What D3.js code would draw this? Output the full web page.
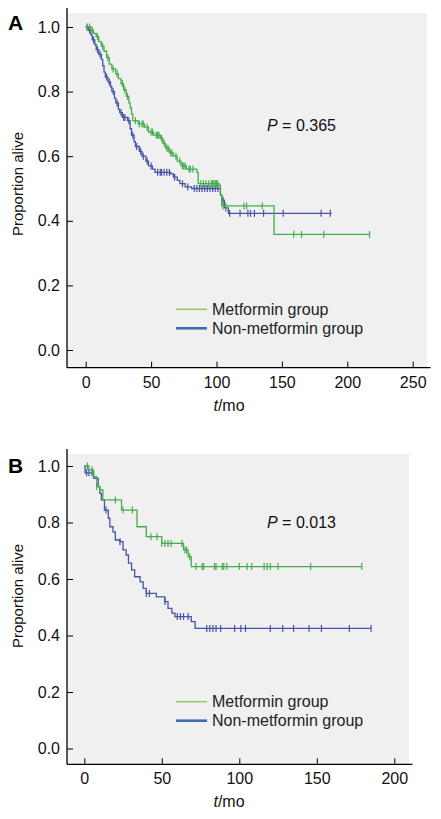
<!DOCTYPE html>
<html><head><meta charset="utf-8">
<script src="https://cdn.jsdelivr.net/npm/d3@7"></script>
<style>
html,body{margin:0;padding:0;background:#fff;}
svg{display:block;font-family:"Liberation Sans",Arial,sans-serif;}
</style></head>
<body><svg id="c" width="441" height="819"></svg>
<script>
// ---------- data ----------
const seriesNames = ["Metformin group", "Non-metformin group"];
const panelLabels = ["A", "B"];
const pValues = ["0.365", "0.013"];
const xTicksA = [0, 50, 100, 150, 200, 250];
const xTicksB = [0, 50, 100, 150, 200];
const yTicks = [0.0, 0.2, 0.4, 0.6, 0.8, 1.0];

// Panel A – metformin
const aMetTimes = [0,4,6,8,10,12,14,16,18,20,23,25,27,29,31,33,34,35,36,40,45,48,52,57,59,61,64,67,70,73,77,85,86,102,103,104,144,217];
const aMetSurv  = [1.0,0.99,0.98,0.97,0.955,0.94,0.925,0.905,0.885,0.87,0.855,0.84,0.825,0.805,0.785,0.765,0.75,0.73,0.71,0.70,0.69,0.675,0.665,0.655,0.64,0.625,0.61,0.60,0.585,0.57,0.56,0.55,0.515,0.51,0.48,0.446,0.358,0.358];
const aMetCensor = [3,5,9,13,17,21,24,28,30,32,38,41,43,44,47,50,51,54,55,56,58,60,62,63,65,66,69,72,74,75,76,79,80,82,88,90,92,94,96,97,98,99,100,101,105,107,121,123,135,159,165,182,217];
// Panel A – non-metformin
const aNonTimes = [0,2,4,5,7,8,10,12,13,14,15,17,19,20,22,23,25,26,28,32,34,35,37,38,41,43,46,48,51,53,65,67,70,72,76,81,103,104,106,109,188];
const aNonSurv  = [1.0,0.99,0.975,0.96,0.945,0.93,0.915,0.9,0.88,0.86,0.845,0.83,0.815,0.8,0.78,0.765,0.745,0.735,0.72,0.71,0.685,0.665,0.645,0.63,0.615,0.6,0.585,0.57,0.56,0.55,0.545,0.535,0.525,0.515,0.505,0.5,0.48,0.464,0.44,0.423,0.423];
const aNonCensor = [1,3,6,9,11,16,18,21,24,27,29,30,33,36,39,42,44,47,50,55,57,58,60,62,64,68,74,78,83,85,87,89,91,93,95,97,99,101,105,107,110,118,124,126,129,136,151,180,187];

// Panel B – metformin
const bMetTimes = [0,3,6,8,10,12,24,34,40,50,64,67,69,179];
const bMetSurv  = [1,0.986,0.962,0.927,0.915,0.88,0.844,0.785,0.75,0.726,0.703,0.679,0.644,0.644];
const bMetCensor = [2,5,8,20,25,31,43,47,50,52,54,56,63,65,66,68,72,76,77,84,85,89,90,92,100,105,108,116,118,120,125,146,179];
// Panel B – non-metformin
const bNonTimes = [0,0.5,6,9,10,11,13,15.5,16.5,18.5,20,23,25,27,28.5,30.5,32.5,36,38,40,46.5,52,54,56.5,58.5,69,71.5,185];
const bNonSurv  = [1,0.976,0.956,0.927,0.903,0.88,0.844,0.815,0.785,0.767,0.738,0.732,0.703,0.685,0.656,0.632,0.608,0.59,0.567,0.549,0.537,0.52,0.496,0.479,0.467,0.449,0.425,0.425];
const bNonCensor = [1.5,3,5,14,23,40,42,52,60,62,64,67,79,81,83,85,88,97,101,104,120,128,135,145,153,171,185];

// ---------- styles ----------
const curveColors = ["#45ad4d", "#4753a5"];
const legendColors = ["#8fcb5c", "#3b6db3"];
const legendWidths = [1.5, 2.6];

const svg = d3.select("#c");

function survAt(times, surv, t) {
  let s = surv[0];
  for (let i = 0; i < times.length; i++) { if (times[i] <= t) s = surv[i]; }
  return s;
}

function panel(cfg) {
  const x = d3.scaleLinear().domain([0, cfg.xMax]).range(cfg.xr);
  const y = d3.scaleLinear().domain([0, 1]).range(cfg.yr);
  const g = svg.append("g");
  g.append("rect").attr("x", cfg.box[0]).attr("y", cfg.box[1])
    .attr("width", cfg.box[2] - cfg.box[0]).attr("height", cfg.box[3] - cfg.box[1])
    .attr("fill", "#f0f0f0");

  const yAx = g.append("g").attr("transform", `translate(${cfg.box[0]},0)`)
    .call(d3.axisLeft(y).tickValues(yTicks).tickFormat(d3.format(".1f")).tickSizeInner(-6).tickSizeOuter(0).tickPadding(7));
  const xAx = g.append("g").attr("transform", `translate(0,${cfg.box[3]})`)
    .call(d3.axisBottom(x).tickValues(cfg.xTicks).tickFormat(d3.format("d")).tickSizeInner(-6).tickSizeOuter(0).tickPadding(cfg.xPad));
  [yAx, xAx].forEach(a => {
    a.select(".domain").remove();
    a.selectAll("line").attr("stroke", "#000").attr("stroke-width", 1);
    a.selectAll("text").attr("font-size", 16).attr("fill", "#111")
      .attr("font-family", '"Liberation Sans",Arial,sans-serif');
  });
  g.append("line").attr("x1", cfg.box[0]).attr("x2", cfg.box[0])
    .attr("y1", cfg.box[1] - 5).attr("y2", cfg.box[3]).attr("stroke", "#000").attr("stroke-width", 1.3);
  g.append("line").attr("x1", cfg.box[0]).attr("x2", cfg.box[2] + 3.5)
    .attr("y1", cfg.box[3]).attr("y2", cfg.box[3]).attr("stroke", "#000").attr("stroke-width", 1.3);

  const line = d3.line().curve(d3.curveStepAfter).x(d => x(d[0])).y(d => y(d[1]));
  [1, 0].forEach(k => {
    const s = cfg.series[k];
    const pts = s.times.map((t, i) => [t, s.surv[i]]);
    g.append("path").datum(pts).attr("d", line).attr("fill", "none")
      .attr("stroke", curveColors[k]).attr("stroke-width", 1.3);
    g.selectAll(null).data(s.censor).enter().append("line")
      .attr("x1", d => x(d)).attr("x2", d => x(d))
      .attr("y1", d => y(survAt(s.times, s.surv, d)) - 3.5)
      .attr("y2", d => y(survAt(s.times, s.surv, d)) + 3.5)
      .attr("stroke", curveColors[k]).attr("stroke-width", 1.2);
  });

  const pt = g.append("text").attr("x", 267).attr("y", cfg.pY).attr("font-size", 16).attr("fill", "#111");
  pt.append("tspan").attr("font-style", "italic").text("P");
  pt.append("tspan").text(" = " + cfg.p);

  seriesNames.forEach((n, k) => {
    const ly = cfg.legY[k];
    g.append("line").attr("x1", 176).attr("x2", 207).attr("y1", ly).attr("y2", ly)
      .attr("stroke", legendColors[k]).attr("stroke-width", legendWidths[k]);
    g.append("text").attr("x", 212).attr("y", ly + 5.5).attr("font-size", 16).attr("fill", "#222").text(n);
  });

  g.append("text").attr("transform", `translate(23,${cfg.yLabY}) rotate(-90)`)
    .attr("text-anchor", "middle").attr("font-size", 15).attr("fill", "#111").text("Proportion alive");
  const xt = g.append("text").attr("x", 229).attr("y", cfg.xLabY).attr("text-anchor", "middle")
    .attr("font-size", 16).attr("fill", "#111");
  xt.append("tspan").attr("font-style", "italic").text("t");
  xt.append("tspan").text("/mo");

  g.append("text").attr("x", 8).attr("y", cfg.letY).attr("font-size", 21).attr("font-weight", "bold")
    .attr("fill", "#000").text(cfg.letter);
}

panel({
  letter: panelLabels[0], p: pValues[0], xMax: 250, xTicks: xTicksA,
  xr: [85.7, 412.7], yr: [350, 27], box: [67, 13, 427, 367.7], xPad: 9,
  series: [{times: aMetTimes, surv: aMetSurv, censor: aMetCensor},
           {times: aNonTimes, surv: aNonSurv, censor: aNonCensor}],
  pY: 131, legY: [309.3, 328.3], yLabY: 184, xLabY: 411, letY: 29.5
});
panel({
  letter: panelLabels[1], p: pValues[1], xMax: 200, xTicks: xTicksB,
  xr: [84.3, 394.3], yr: [748.5, 466], box: [67, 454, 409, 764.3], xPad: 8,
  series: [{times: bMetTimes, surv: bMetSurv, censor: bMetCensor},
           {times: bNonTimes, surv: bNonSurv, censor: bNonCensor}],
  pY: 528, legY: [701.7, 720.7], yLabY: 596, xLabY: 807, letY: 472.5
});
</script></body></html>
